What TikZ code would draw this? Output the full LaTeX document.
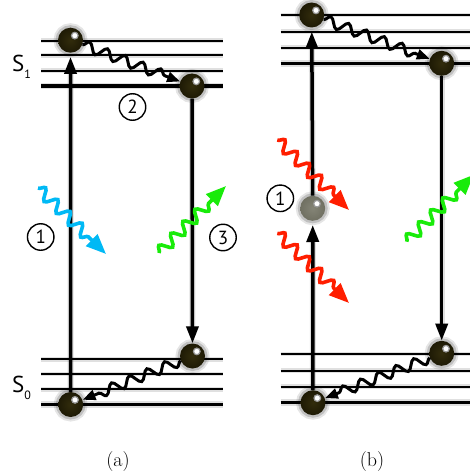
\documentclass[tikz,border=0pt]{standalone}
\usepackage{fontspec}
\setsansfont{PT Sans}
\usetikzlibrary{arrows.meta,decorations.pathmorphing,backgrounds}
\definecolor{balldark}{RGB}{30,26,5}
\definecolor{ballmid}{RGB}{50,44,12}
\definecolor{greydark}{RGB}{112,112,98}
\definecolor{greymid}{RGB}{132,132,118}
\definecolor{photblue}{RGB}{0,185,245}
\definecolor{photred}{RGB}{255,30,0}
\definecolor{photgreen}{RGB}{25,235,10}
\tikzset{
  halo/.style={preaction={draw=black,opacity=0.12,line width=#1}},
  level/.style={line width=1.7pt,halo=4.5pt},
  ground/.style={line width=3.4pt,halo=6.5pt},
  trans/.style={line width=3.5pt,halo=6pt,-{Triangle[length=17pt,width=12pt]}},
  relax/.style={line width=3pt,decorate,
    decoration={snake,amplitude=5pt,segment length=19pt,post length=13pt},
    -{Triangle[length=13pt,width=10pt]}},
  photon/.style={line width=3.6pt,decorate,
    decoration={snake,amplitude=5.5pt,segment length=17pt,post length=21pt},
    -{Triangle[length=20pt,width=16pt]}},
  ball/.style={circle,minimum size=25pt,inner sep=0pt,
    inner color=ballmid,outer color=balldark,
    preaction={draw=black,opacity=0.10,line width=9pt},
    preaction={draw=black,opacity=0.16,line width=5pt},
    path picture={\draw[fill=white,draw=black!40,line width=1.2pt]
      ([shift={(4.3pt,4.6pt)}]path picture bounding box.center) circle (3.3pt);}},
  greyball/.style={ball,inner color=greymid,outer color=greydark},
  num/.style={circle,draw,line width=1.4pt,minimum size=26.5pt,inner sep=0pt,
    font=\sffamily\fontsize{19}{19}\selectfont},
  slabel/.style={font=\sffamily\fontsize{23}{23}\selectfont,inner sep=0pt},
  captext/.style={font=\fontsize{20}{20}\selectfont,inner sep=0pt}
}
\begin{document}
\begin{tikzpicture}[x=1pt,y=-1pt]
\useasboundingbox (0,0) rectangle (470,476);
\clip (0,0) rectangle (470,476);
% ---------- (a) ----------
\node[ball] (a1) at (70.5,40.2) {};
\node[ball] (a2) at (192,86) {};
\node[ball] (a3) at (192.5,356) {};
\node[ball] (a0) at (70.7,404.5) {};
\begin{scope}[on background layer]
  \foreach \y in {40.7,55.3,70.7} \draw[level] (41,\y) -- (223,\y);
  \draw[ground] (41,86) -- (223,86);
  \foreach \y in {359.3,374,389.3} \draw[level] (41,\y) -- (223,\y);
  \draw[ground] (41,404.7) -- (223,404.7);
\end{scope}
\draw[trans,shorten >=4pt] (a0) -- (a1);
\draw[trans] (a2) -- (a3);
\draw[relax] (a1) -- (a2);
\draw[relax] (a3) -- (a0);
\coordinate (pb0) at (38,188);
\coordinate (pb1) at (106,254);
\draw[photon,photblue] (pb0) -- (pb1);
\coordinate (pg0) at (159,253);
\coordinate (pg1) at (226,186);
\draw[photon,photgreen] (pg0) -- (pg1);
\node[num] (n1a) at (40.7,237) {1};
\node[num] (n2a) at (132.5,107) {2};
\node[num] (n3a) at (223,237.5) {3};
\node[slabel] (s1) at (21.5,67) {S\raisebox{-0.3em}{\fontsize{12}{12}\selectfont 1}};
\node[slabel] (s0) at (21.5,388) {S\raisebox{-0.3em}{\fontsize{12}{12}\selectfont 0}};
\node[captext] (capa) at (118,462) {(a)};
% ---------- (b) ----------
\node[ball] (b1) at (311.7,15) {};
\node[ball] (b2) at (441.7,63.3) {};
\node[ball] (b3) at (441.7,353.3) {};
\node[ball] (b0) at (313,402.7) {};
\node[greyball] (bg) at (312.7,208.3) {};
\begin{scope}[on background layer]
  \foreach \y in {15,31.7,47.7} \draw[level] (280.7,\y) -- (475,\y);
  \draw[ground] (280.7,63.3) -- (475,63.3);
  \foreach \y in {354,370.7,386.7} \draw[level] (280.7,\y) -- (475,\y);
  \draw[ground] (280.7,402.7) -- (475,402.7);
\end{scope}
\draw[trans,shorten >=4pt] (b0) -- (bg);
\draw[trans,shorten >=4pt] (bg) -- (b1);
\draw[trans] (b2) -- (b3);
\draw[relax] (b1) -- (b2);
\draw[relax] (b3) -- (b0);
\coordinate (pr0) at (277.3,140);
\coordinate (pr1) at (349,210);
\draw[photon,photred] (pr0) -- (pr1);
\coordinate (pr2) at (277.3,233.3);
\coordinate (pr3) at (349,303);
\draw[photon,photred] (pr2) -- (pr3);
\coordinate (pg2) at (406.7,241.7);
\coordinate (pg3) at (473.7,174.7);
\draw[photon,photgreen] (pg2) -- (pg3);
\node[num] (n1b) at (280.3,198.3) {1};
\node[captext] (capb) at (372,462) {(b)};
\end{tikzpicture}
\end{document}
